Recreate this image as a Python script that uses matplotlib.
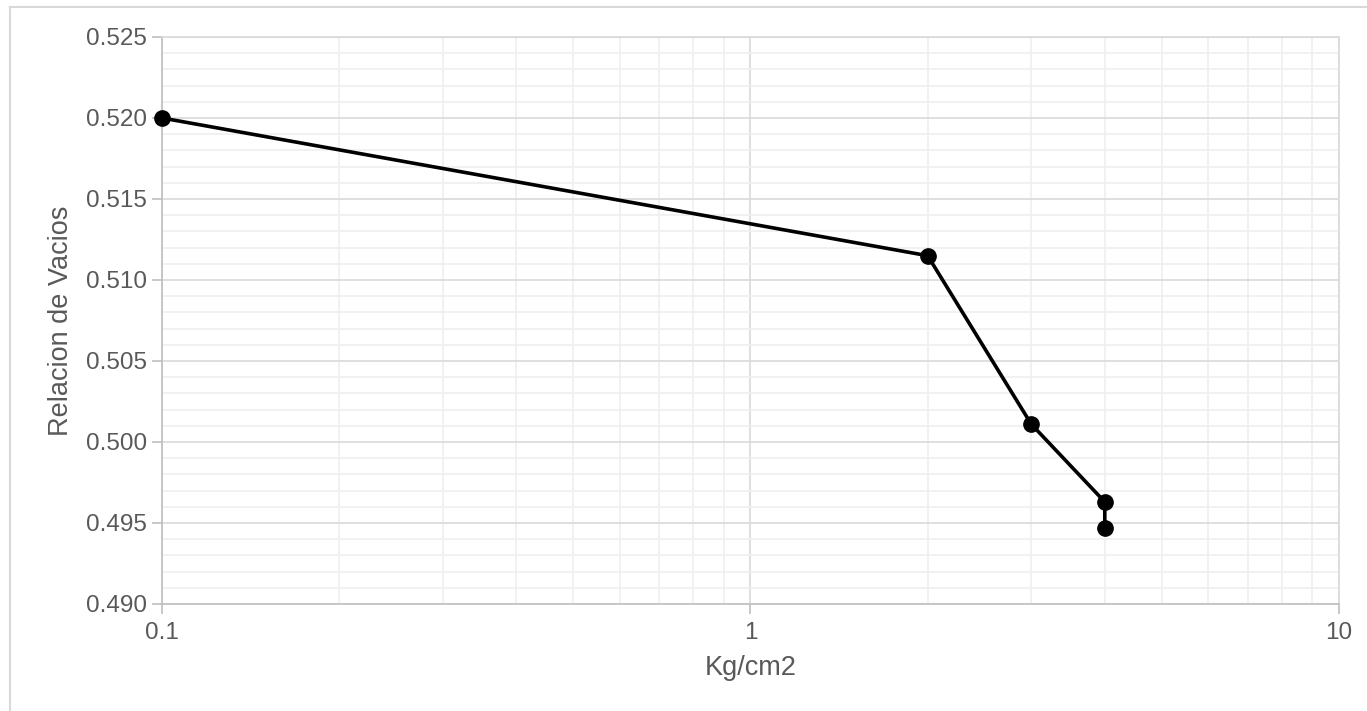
import matplotlib.pyplot as plt
from matplotlib.ticker import FixedLocator, MultipleLocator, FuncFormatter
from matplotlib.lines import Line2D

# carga (Kg/cm2) vs relacion de vacios
presion = [0.1, 2, 3, 4, 4]
vacios = [0.5200, 0.5115, 0.5011, 0.4963, 0.4947]

plt.rcParams['font.family'] = ['Liberation Sans', 'DejaVu Sans']
txt = '#595959'

fig = plt.figure(figsize=(13.67, 7.11), dpi=100)
ax = fig.add_axes([0.1185, 0.1505, 0.861, 0.7975])

ax.plot(presion, vacios, color='black', lw=2.6, marker='o', ms=11, zorder=3, clip_on=False)

ax.set_xscale('log')
ax.set_xlim(0.1, 10)
ax.set_ylim(0.490, 0.525)

ax.xaxis.set_major_locator(FixedLocator([0.1, 1, 10]))
ax.xaxis.set_minor_locator(FixedLocator([m * d for d in [0.1, 1] for m in range(2, 10)]))
ax.xaxis.set_major_formatter(FuncFormatter(lambda v, p: '%g' % v))
ax.xaxis.set_minor_formatter(FuncFormatter(lambda v, p: ''))
ax.yaxis.set_major_locator(MultipleLocator(0.005))
ax.yaxis.set_minor_locator(MultipleLocator(0.001))
ax.yaxis.set_major_formatter(FuncFormatter(lambda v, p: '%.3f' % v))

ax.grid(which='major', color='#d9d9d9', lw=1.2)
ax.grid(which='minor', color='#efefef', lw=1.2)
ax.set_axisbelow(True)

for s in ['left', 'bottom']:
    ax.spines[s].set_color('#bfbfbf')
    ax.spines[s].set_linewidth(1.2)
for s in ['top', 'right']:
    ax.spines[s].set_color('#d9d9d9')
    ax.spines[s].set_linewidth(1.2)

ax.tick_params(which='major', length=7, width=1.2, color='#bfbfbf', labelsize=17.5,
               labelcolor=txt, pad=4)
ax.tick_params(which='minor', length=0)
ax.tick_params(axis='x', pad=6)

ax.set_xlabel('Kg/cm2', fontsize=19.5, color=txt, labelpad=8)
ax.set_ylabel('Relacion de Vacios', fontsize=19.5, color=txt, labelpad=8)

# borde exterior del grafico
fig.add_artist(Line2D([10 / 1367, 10 / 1367], [0, 1 - 7 / 711], transform=fig.transFigure,
                      color='#d9d9d9', lw=1.5))
fig.add_artist(Line2D([10 / 1367, 1], [1 - 7 / 711, 1 - 7 / 711], transform=fig.transFigure,
                      color='#d9d9d9', lw=1.5))

fig.savefig('out.png', dpi=100)
